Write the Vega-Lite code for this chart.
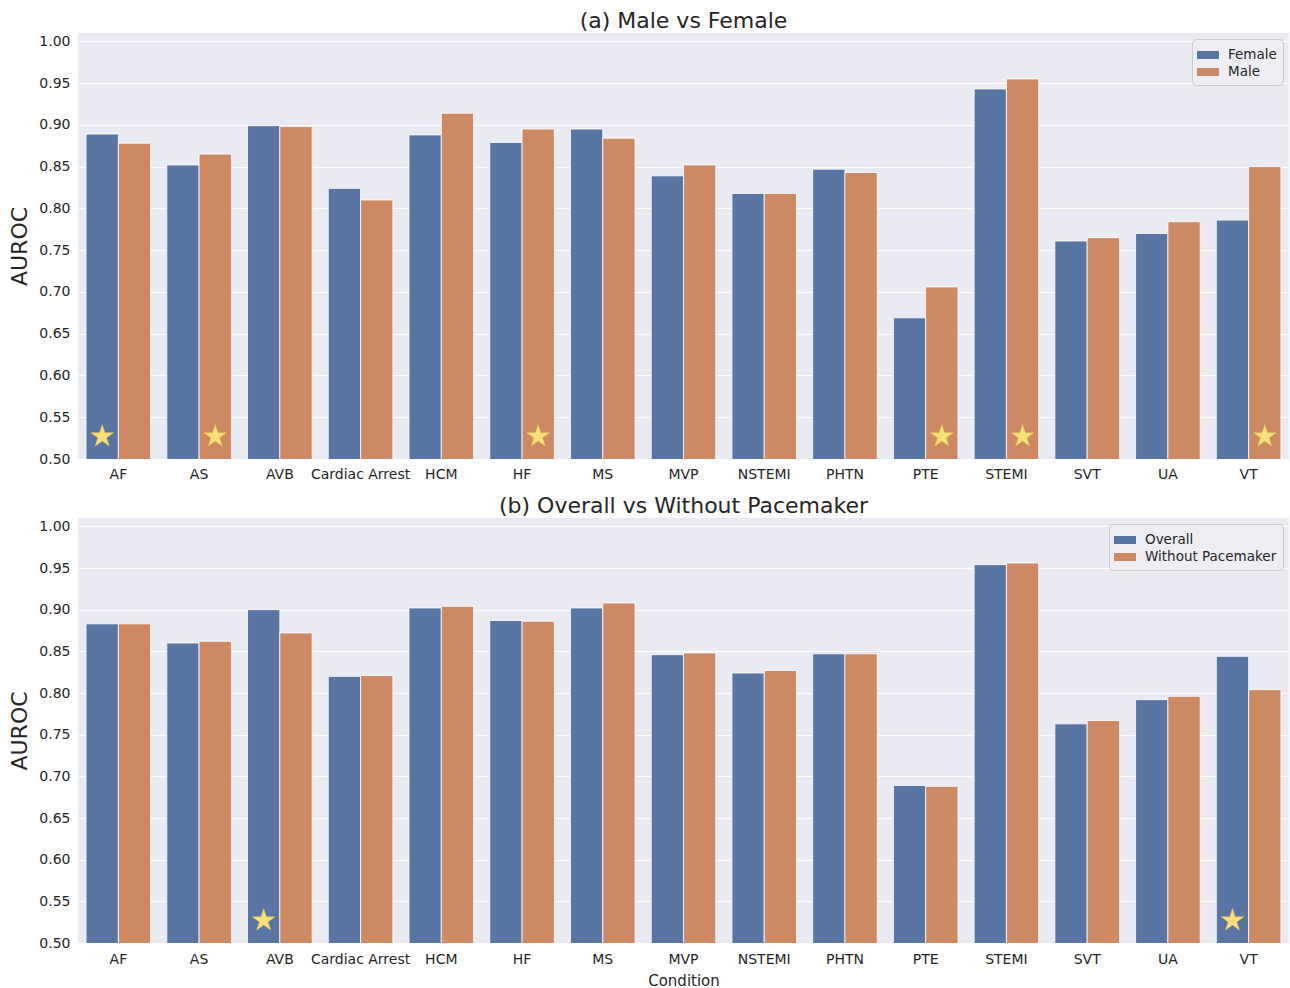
{
  "$schema": "https://vega.github.io/schema/vega-lite/v6.json",
  "padding": {"left": 8, "top": 10, "right": 1, "bottom": 2},
  "spacing": 14,
  "config": {
    "font": "DejaVu Sans",
    "view": {"fill": "#EAEAF2", "stroke": null},
    "axis": {"grid": true, "gridColor": "#FFFFFF", "gridWidth": 1, "domain": false, "ticks": false, "labelFontSize": 14, "labelColor": "#262626", "titleColor": "#262626", "titleFontWeight": "normal", "labelPadding": 8},
    "axisX": {"grid": false, "labelAngle": 0, "labelPadding": 8},
    "title": {"fontSize": 22, "fontWeight": "normal", "color": "#262626", "anchor": "middle"},
    "legend": {"orient": "top-right", "offset": 6, "fillColor": "#EDEDF3", "strokeColor": "#CCCCCC", "cornerRadius": 4, "padding": 6, "labelFontSize": 13.5, "labelColor": "#262626", "symbolType": "M-1.1,-0.4H1.1V0.4H-1.1Z", "symbolSize": 400, "symbolStrokeWidth": 0, "rowPadding": 0, "labelOffset": 10}
  },
  "datasets": {
    "a": [
      {"condition": "AF", "group": "Female", "auroc": 0.889, "star": true},
      {"condition": "AF", "group": "Male", "auroc": 0.878, "star": false},
      {"condition": "AS", "group": "Female", "auroc": 0.852, "star": false},
      {"condition": "AS", "group": "Male", "auroc": 0.865, "star": true},
      {"condition": "AVB", "group": "Female", "auroc": 0.899, "star": false},
      {"condition": "AVB", "group": "Male", "auroc": 0.898, "star": false},
      {"condition": "Cardiac Arrest", "group": "Female", "auroc": 0.824, "star": false},
      {"condition": "Cardiac Arrest", "group": "Male", "auroc": 0.810, "star": false},
      {"condition": "HCM", "group": "Female", "auroc": 0.888, "star": false},
      {"condition": "HCM", "group": "Male", "auroc": 0.914, "star": false},
      {"condition": "HF", "group": "Female", "auroc": 0.879, "star": false},
      {"condition": "HF", "group": "Male", "auroc": 0.895, "star": true},
      {"condition": "MS", "group": "Female", "auroc": 0.895, "star": false},
      {"condition": "MS", "group": "Male", "auroc": 0.884, "star": false},
      {"condition": "MVP", "group": "Female", "auroc": 0.839, "star": false},
      {"condition": "MVP", "group": "Male", "auroc": 0.852, "star": false},
      {"condition": "NSTEMI", "group": "Female", "auroc": 0.818, "star": false},
      {"condition": "NSTEMI", "group": "Male", "auroc": 0.818, "star": false},
      {"condition": "PHTN", "group": "Female", "auroc": 0.847, "star": false},
      {"condition": "PHTN", "group": "Male", "auroc": 0.843, "star": false},
      {"condition": "PTE", "group": "Female", "auroc": 0.669, "star": false},
      {"condition": "PTE", "group": "Male", "auroc": 0.706, "star": true},
      {"condition": "STEMI", "group": "Female", "auroc": 0.943, "star": false},
      {"condition": "STEMI", "group": "Male", "auroc": 0.955, "star": true},
      {"condition": "SVT", "group": "Female", "auroc": 0.761, "star": false},
      {"condition": "SVT", "group": "Male", "auroc": 0.765, "star": false},
      {"condition": "UA", "group": "Female", "auroc": 0.770, "star": false},
      {"condition": "UA", "group": "Male", "auroc": 0.784, "star": false},
      {"condition": "VT", "group": "Female", "auroc": 0.786, "star": false},
      {"condition": "VT", "group": "Male", "auroc": 0.850, "star": true}
    ],
    "b": [
      {"condition": "AF", "group": "Overall", "auroc": 0.883, "star": false},
      {"condition": "AF", "group": "Without Pacemaker", "auroc": 0.883, "star": false},
      {"condition": "AS", "group": "Overall", "auroc": 0.860, "star": false},
      {"condition": "AS", "group": "Without Pacemaker", "auroc": 0.862, "star": false},
      {"condition": "AVB", "group": "Overall", "auroc": 0.900, "star": true},
      {"condition": "AVB", "group": "Without Pacemaker", "auroc": 0.872, "star": false},
      {"condition": "Cardiac Arrest", "group": "Overall", "auroc": 0.820, "star": false},
      {"condition": "Cardiac Arrest", "group": "Without Pacemaker", "auroc": 0.821, "star": false},
      {"condition": "HCM", "group": "Overall", "auroc": 0.902, "star": false},
      {"condition": "HCM", "group": "Without Pacemaker", "auroc": 0.904, "star": false},
      {"condition": "HF", "group": "Overall", "auroc": 0.887, "star": false},
      {"condition": "HF", "group": "Without Pacemaker", "auroc": 0.886, "star": false},
      {"condition": "MS", "group": "Overall", "auroc": 0.902, "star": false},
      {"condition": "MS", "group": "Without Pacemaker", "auroc": 0.908, "star": false},
      {"condition": "MVP", "group": "Overall", "auroc": 0.846, "star": false},
      {"condition": "MVP", "group": "Without Pacemaker", "auroc": 0.848, "star": false},
      {"condition": "NSTEMI", "group": "Overall", "auroc": 0.824, "star": false},
      {"condition": "NSTEMI", "group": "Without Pacemaker", "auroc": 0.827, "star": false},
      {"condition": "PHTN", "group": "Overall", "auroc": 0.847, "star": false},
      {"condition": "PHTN", "group": "Without Pacemaker", "auroc": 0.847, "star": false},
      {"condition": "PTE", "group": "Overall", "auroc": 0.689, "star": false},
      {"condition": "PTE", "group": "Without Pacemaker", "auroc": 0.688, "star": false},
      {"condition": "STEMI", "group": "Overall", "auroc": 0.954, "star": false},
      {"condition": "STEMI", "group": "Without Pacemaker", "auroc": 0.956, "star": false},
      {"condition": "SVT", "group": "Overall", "auroc": 0.763, "star": false},
      {"condition": "SVT", "group": "Without Pacemaker", "auroc": 0.767, "star": false},
      {"condition": "UA", "group": "Overall", "auroc": 0.792, "star": false},
      {"condition": "UA", "group": "Without Pacemaker", "auroc": 0.796, "star": false},
      {"condition": "VT", "group": "Overall", "auroc": 0.844, "star": true},
      {"condition": "VT", "group": "Without Pacemaker", "auroc": 0.804, "star": false}
    ]
  },
  "vconcat": [
    {
      "title": {"text": "(a)  Male vs Female", "offset": 0},
      "width": 1211,
      "height": 426,
      "data": {"name": "a"},
      "encoding": {
        "x": {"field": "condition", "type": "nominal", "sort": null, "title": null, "scale": {"paddingInner": 0.2, "paddingOuter": 0.1}},
        "xOffset": {"field": "group", "type": "nominal", "scale": {"paddingInner": 0, "paddingOuter": 0}}
      },
      "layer": [
        {
          "mark": {"type": "bar", "stroke": "#FFFFFF", "strokeWidth": 0.8, "clip": true},
          "encoding": {
            "y": {"field": "auroc", "type": "quantitative", "title": "AUROC", "scale": {"domain": [0.5, 1.01], "zero": false, "nice": false}, "axis": {"values": [0.5, 0.55, 0.6, 0.65, 0.7, 0.75, 0.8, 0.85, 0.9, 0.95, 1.0], "format": ".2f", "titleFontSize": 22, "titlePadding": 7}},
            "color": {"field": "group", "type": "nominal", "title": null, "scale": {"domain": ["Female", "Male"], "range": ["#5975A4", "#CC8963"]}}
          }
        },
        {
          "transform": [{"filter": "datum.star"}],
          "mark": {"type": "point", "shape": "M0,-1L0.2245,-0.309L0.9511,-0.309L0.3633,0.118L0.5878,0.809L0,0.382L-0.5878,0.809L-0.3633,0.118L-0.9511,-0.309L-0.2245,-0.309Z", "filled": true, "fill": "#F8E07A", "stroke": "#E9C64F", "strokeWidth": 0.6, "opacity": 1, "size": 560},
          "encoding": {
            "y": {"datum": 0.527, "type": "quantitative"}
          }
        }
      ]
    },
    {
      "title": {"text": "(b)  Overall vs Without Pacemaker", "offset": 0},
      "width": 1211,
      "height": 425,
      "data": {"name": "b"},
      "encoding": {
        "x": {"field": "condition", "type": "nominal", "sort": null, "title": "Condition", "scale": {"paddingInner": 0.2, "paddingOuter": 0.1}, "axis": {"titleFontSize": 15, "titlePadding": 7, "labelPadding": 9}},
        "xOffset": {"field": "group", "type": "nominal", "scale": {"paddingInner": 0, "paddingOuter": 0}}
      },
      "layer": [
        {
          "mark": {"type": "bar", "stroke": "#FFFFFF", "strokeWidth": 0.8, "clip": true},
          "encoding": {
            "y": {"field": "auroc", "type": "quantitative", "title": "AUROC", "scale": {"domain": [0.5, 1.01], "zero": false, "nice": false}, "axis": {"values": [0.5, 0.55, 0.6, 0.65, 0.7, 0.75, 0.8, 0.85, 0.9, 0.95, 1.0], "format": ".2f", "titleFontSize": 22, "titlePadding": 7}},
            "color": {"field": "group", "type": "nominal", "title": null, "scale": {"domain": ["Overall", "Without Pacemaker"], "range": ["#5975A4", "#CC8963"]}}
          }
        },
        {
          "transform": [{"filter": "datum.star"}],
          "mark": {"type": "point", "shape": "M0,-1L0.2245,-0.309L0.9511,-0.309L0.3633,0.118L0.5878,0.809L0,0.382L-0.5878,0.809L-0.3633,0.118L-0.9511,-0.309L-0.2245,-0.309Z", "filled": true, "fill": "#F8E07A", "stroke": "#E9C64F", "strokeWidth": 0.6, "opacity": 1, "size": 560},
          "encoding": {
            "y": {"datum": 0.527, "type": "quantitative"}
          }
        }
      ]
    }
  ],
  "resolve": {"scale": {"color": "independent", "xOffset": "independent", "x": "independent", "y": "independent"}}
}
